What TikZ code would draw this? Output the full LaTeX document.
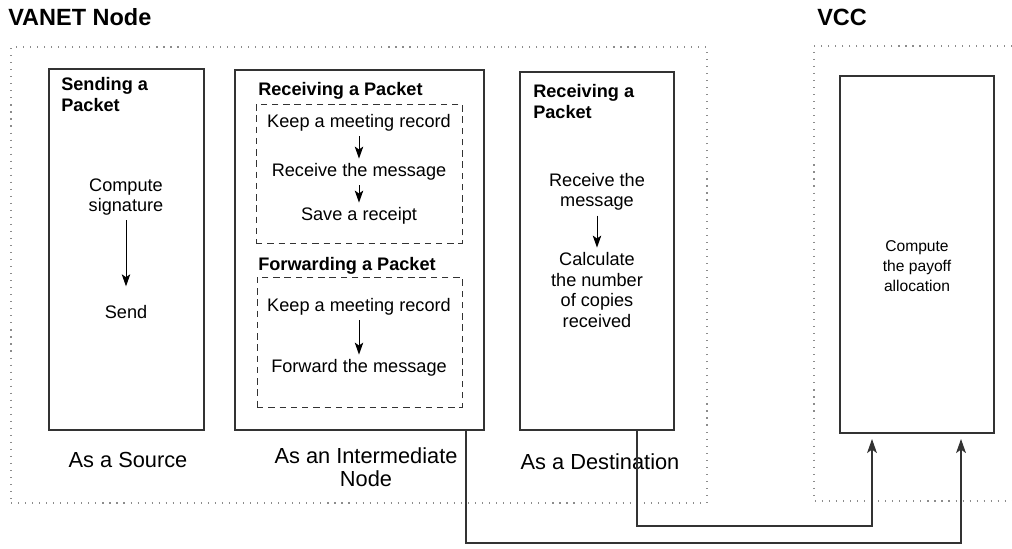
\documentclass[tikz,border=0pt]{standalone}
\usepackage{fontspec}
\setmainfont{Liberation Sans}
\usetikzlibrary{positioning, fit, arrows.meta}

\tikzset{
  box/.style={draw=black!80, line width=0.9pt, inner sep=0pt},
  dashbox/.style={draw=black!80, line width=0.7pt, dash pattern=on 4.5pt off 3.5pt, inner sep=0pt},
  frame/.style={draw=black!45, line width=0.8pt, dash pattern=on 0.8pt off 4.2pt, inner sep=0pt},
  title/.style={font=\fontsize{16.7}{19}\selectfont\bfseries, anchor=west, inner sep=0pt},
  head/.style={font=\fontsize{12.9}{15}\selectfont\bfseries, anchor=north west, align=left, inner sep=0pt},
  txt/.style={font=\fontsize{12.9}{14.6}\selectfont, align=center},
  small/.style={font=\fontsize{11.1}{14.4}\selectfont, align=center},
  role/.style={font=\fontsize{15.5}{16.4}\selectfont, align=center},
  flow/.style={-{Stealth[length=8.5pt,width=6pt,inset=2pt]}, line width=0.7pt},
  link/.style={-{Stealth[length=10pt,width=7pt,inset=2.5pt]}, draw=black!80, line width=0.8pt}
}

\begin{document}
\begin{tikzpicture}[x=0.025cm, y=-0.025cm]
  \useasboundingbox (0,0) rectangle (1012,548);

  % dotted frames
  \node[frame, fit={(11,47) (707,503)}] (vanet) {};
  \draw[frame] (1012,46) -| (814,501) -- (1012,501);
  \node[title] (vanet title) at (8,17) {VANET Node};
  \node[title] (vcc title) at (817,17) {VCC};

  % the three roles of a vehicle
  \node[box, fit={(49,69) (204,430)}] (source) {};
  \node[box, fit={(235,70) (484,430)}] (inter) {};
  \node[box, fit={(520,72) (674,430)}] (dest) {};
  \node[box, fit={(840,76) (994,433)}] (vcc) {};

  % source
  \node[head] (send head) at (61,77) {Sending a\\Packet};
  \node[txt] (sign) at (126,197) {Compute\\signature};
  \node[txt] (send) at (126,312) {Send};
  \draw[flow, shorten >=10pt] (sign) -- (send);

  % intermediate node
  \node[head] (recv head) at (258,82) {Receiving a Packet};
  \node[dashbox, fit={(256,104) (462,243)}] (recv) {};
  \node[txt] (rec1) at (359,123) {Keep a meeting record};
  \node[txt] (rec2) at (359,172) {Receive the message};
  \node[txt] (rec3) at (359,216) {Save a receipt};
  \draw[flow] (rec1) -- (rec2);
  \draw[flow] (rec2) -- (rec3);

  \node[head] (fwd head) at (258,257) {Forwarding a Packet};
  \node[dashbox, fit={(257,277) (462,407)}] (fwd) {};
  \node[txt] (fwd1) at (359,307) {Keep a meeting record};
  \node[txt] (fwd2) at (359,368) {Forward the message};
  \draw[flow] (fwd1) -- (fwd2);

  % destination
  \node[head] (dest head) at (533,84) {Receiving a\\Packet};
  \node[txt] (dst1) at (597,192) {Receive the\\message};
  \node[txt] (dst2) at (597,290) {Calculate\\the number\\of copies\\received};
  \draw[flow] (dst1) -- (dst2);

  % cloud side
  \node[small] (payoff) at (917,266) {Compute\\the payoff\\allocation};

  % role labels
  \node[role] (as source) at (128,460) {As a Source};
  \node[role] (as inter) at (366,467) {As an Intermediate\\Node};
  \node[role] (as dest) at (600,462) {As a Destination};

  % reports sent to the VCC
  \coordinate (inter out) at (466,430);
  \coordinate (dest out) at (637,430);
  \coordinate (vcc in a) at (872,439);
  \coordinate (vcc in b) at (961,439);
  \draw[link] (inter out) -- ++(0,113) -| (vcc in b);
  \draw[link] (dest out) -- ++(0,96) -| (vcc in a);
\end{tikzpicture}
\end{document}
